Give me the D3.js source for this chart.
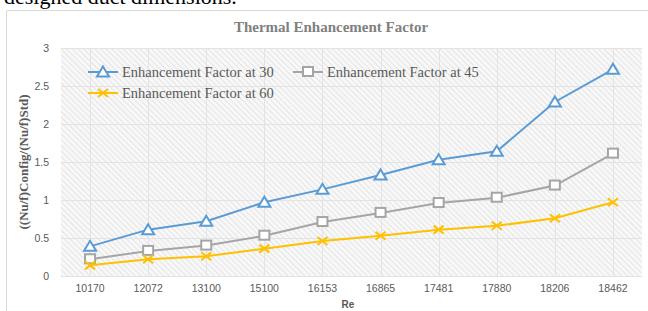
<!DOCTYPE html>
<html>
<head>
<meta charset="utf-8">
<script src="https://cdn.jsdelivr.net/npm/d3@7"></script>
<style>
  body { margin: 0; background: #fff; }
  svg { display: block; }
  .tick text { font-family: "Liberation Sans", Arial, sans-serif; font-size: 10.5px; fill: #595959; }
  .axis path, .axis line { display: none; }
  .legend_label { font-family: "Liberation Serif", "Times New Roman", serif; font-size: 14.5px; fill: #595959; }
</style>
</head>
<body>
<script>
var width = 648, height = 311;
var margin = {top: 48, bottom: 35, left: 61, right: 6};

// data
var reynolds = ["10170", "12072", "13100", "15100", "16153", "16865", "17481", "17880", "18206", "18462"];
var factor30 = [0.39, 0.61, 0.72, 0.97, 1.14, 1.33, 1.53, 1.64, 2.29, 2.72];
var factor45 = [0.22, 0.33, 0.40, 0.53, 0.71, 0.83, 0.96, 1.03, 1.19, 1.61];
var factor60 = [0.14, 0.22, 0.26, 0.36, 0.46, 0.53, 0.61, 0.66, 0.76, 0.97];
var yTicks = [0, 0.5, 1, 1.5, 2, 2.5, 3];
var seriesNames = ["Enhancement Factor at 30", "Enhancement Factor at 45", "Enhancement Factor at 60"];

var series = [
  {name: seriesNames[0], values: factor30, color: "#5b9bd5", marker: "triangle"},
  {name: seriesNames[1], values: factor45, color: "#a5a5a5", marker: "square"},
  {name: seriesNames[2], values: factor60, color: "#ffc000", marker: "cross"}
];

var svg = d3.select("body").append("svg")
  .attr("width", width)
  .attr("height", height);

// hatch pattern for the plot background
var pattern = svg.append("defs").append("pattern")
  .attr("id", "hatch")
  .attr("patternUnits", "userSpaceOnUse")
  .attr("width", 4)
  .attr("height", 4)
  .attr("patternTransform", "rotate(-45)");
pattern.append("rect").attr("width", 4).attr("height", 4).attr("fill", "#f8f8f8");
pattern.append("line")
  .attr("x1", 0).attr("y1", 0).attr("x2", 0).attr("y2", 4)
  .attr("stroke", "#dedede").attr("stroke-width", 1.5);

// text above the chart (page text, cut off at the top like the source)
svg.append("text")
  .attr("x", 4)
  .attr("y", 4)
  .style("font-family", "Liberation Serif, Times New Roman, serif")
  .style("font-size", "22px")
  .style("fill", "#000")
  .text("designed duct dimensions.");

// chart border
svg.append("path")
  .attr("d", "M6.5," + height + "V10.5H" + width)
  .attr("fill", "none")
  .attr("stroke", "#d9d9d9");

var plotW = width - margin.left - margin.right;
var plotH = height - margin.top - margin.bottom;

var xScale = d3.scaleBand()
  .domain(reynolds)
  .range([margin.left, margin.left + plotW]);

var yScale = d3.scaleLinear()
  .domain([0, 3])
  .range([margin.top + plotH, margin.top]);

svg.append("rect")
  .attr("x", margin.left)
  .attr("y", margin.top)
  .attr("width", plotW)
  .attr("height", plotH)
  .attr("fill", "url(#hatch)");

// gridlines
svg.append("g").selectAll("line")
  .data(yTicks)
  .enter().append("line")
  .attr("x1", margin.left).attr("x2", margin.left + plotW)
  .attr("y1", function(d) { return Math.round(yScale(d)) + 0.5; })
  .attr("y2", function(d) { return Math.round(yScale(d)) + 0.5; })
  .attr("stroke", "#e3e3e3");

svg.append("g").selectAll("line")
  .data(reynolds)
  .enter().append("line")
  .attr("x1", function(d) { return Math.round(xScale(d) + xScale.bandwidth() / 2) + 0.5; })
  .attr("x2", function(d) { return Math.round(xScale(d) + xScale.bandwidth() / 2) + 0.5; })
  .attr("y1", margin.top).attr("y2", margin.top + plotH)
  .attr("stroke", "#e3e3e3");

// axes
var yAxis = d3.axisLeft(yScale).tickValues(yTicks).tickFormat(d3.format("")).tickSize(0).tickPadding(12);
svg.append("g")
  .attr("class", "axis")
  .attr("transform", "translate(" + margin.left + ",0)")
  .call(yAxis);

var xAxis = d3.axisBottom(xScale).tickSize(0).tickPadding(9);
svg.append("g")
  .attr("class", "axis")
  .attr("transform", "translate(0," + (margin.top + plotH) + ")")
  .call(xAxis);

// lines
var line = d3.line()
  .x(function(d, i) { return xScale(reynolds[i]) + xScale.bandwidth() / 2; })
  .y(function(d) { return yScale(d); });

function drawMarker(g, type, color) {
  if (type == "triangle") {
    g.append("path").attr("d", "M0,-5.5L6,4.5L-6,4.5Z")
      .attr("fill", "#fff").attr("stroke", color).attr("stroke-width", 2);
  } else if (type == "square") {
    g.append("rect").attr("x", -5).attr("y", -5).attr("width", 10).attr("height", 9)
      .attr("fill", "#fff").attr("stroke", color).attr("stroke-width", 2);
  } else {
    g.append("path").attr("d", "M-5,-4L5,4M-5,4L5,-4")
      .attr("fill", "none").attr("stroke", color).attr("stroke-width", 2);
  }
}

series.forEach(function(s) {
  svg.append("path")
    .datum(s.values)
    .attr("d", line)
    .attr("fill", "none")
    .attr("stroke", s.color)
    .attr("stroke-width", 2);

  s.values.forEach(function(v, i) {
    var g = svg.append("g")
      .attr("transform", "translate(" + (xScale(reynolds[i]) + xScale.bandwidth() / 2) + "," + yScale(v) + ")");
    drawMarker(g, s.marker, s.color);
  });
});

// legend
var legendPos = [[88, 72], [293, 72], [88, 93]];
series.forEach(function(s, i) {
  var lx = legendPos[i][0], ly = legendPos[i][1];
  svg.append("line")
    .attr("x1", lx).attr("x2", lx + 30)
    .attr("y1", ly).attr("y2", ly)
    .attr("stroke", s.color).attr("stroke-width", 2);
  var g = svg.append("g").attr("transform", "translate(" + (lx + 15) + "," + ly + ")");
  drawMarker(g, s.marker, s.color);
  svg.append("text")
    .attr("class", "legend_label")
    .attr("x", lx + 34)
    .attr("y", ly + 5)
    .text(s.name);
});

// title
svg.append("text")
  .attr("x", 331)
  .attr("y", 32)
  .attr("text-anchor", "middle")
  .style("font-family", "Liberation Serif, Times New Roman, serif")
  .style("font-weight", "bold")
  .style("font-size", "15px")
  .style("fill", "#808080")
  .text("Thermal Enhancement Factor");

// axis titles
svg.append("text")
  .attr("transform", "translate(28," + (margin.top + plotH / 2) + ") rotate(270)")
  .attr("text-anchor", "middle")
  .style("font-family", "Liberation Serif, Times New Roman, serif")
  .style("font-weight", "bold")
  .style("font-size", "13px")
  .style("fill", "#595959")
  .text("((Nu/f)Config/(Nu/f)Std)");

svg.append("text")
  .attr("x", 348)
  .attr("y", 308)
  .attr("text-anchor", "middle")
  .style("font-family", "Liberation Sans, Arial, sans-serif")
  .style("font-weight", "bold")
  .style("font-size", "10px")
  .style("fill", "#595959")
  .text("Re");
</script>
</body>
</html>
